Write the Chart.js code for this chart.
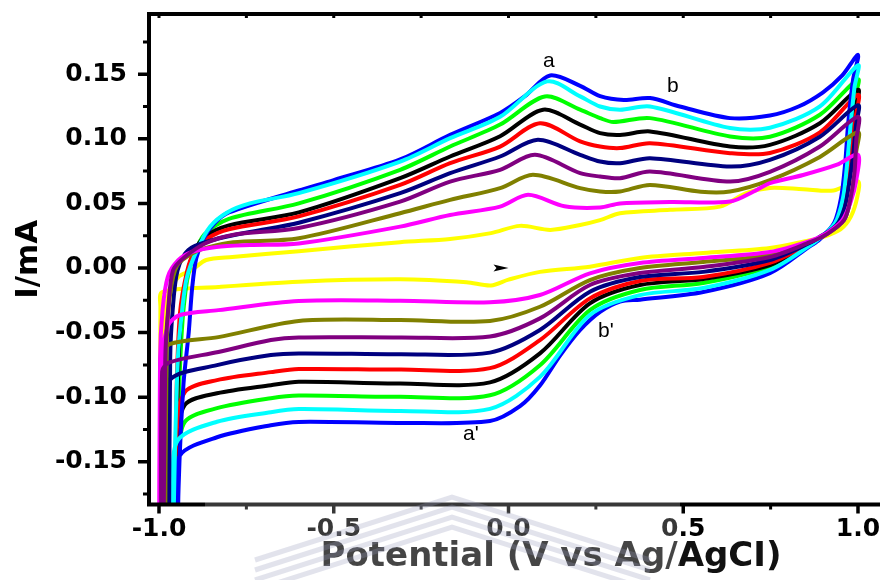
<!DOCTYPE html>
<html>
<head>
<meta charset="utf-8">
<script src="https://cdn.jsdelivr.net/npm/chart.js@4/dist/chart.umd.min.js"></script>
<style>
  html, body { margin: 0; padding: 0; background: #ffffff; overflow: hidden; }
  #wrap { width: 960px; height: 580px; position: relative; }
</style>
</head>
<body>
<div id="wrap"><canvas id="cv" width="960" height="580"></canvas></div>
<script>
// Cyclic voltammograms, one closed loop per scan rate: [potential (V), current (mA)]
// Each path: forward (anodic) sweep from -1.0 V up to 1.0 V, then the reverse sweep back.
const scanYellow = [
  [-0.993,-0.25],[-0.99,-0.06],[-0.975,-0.022],[-0.945,-0.007],[-0.906,-0.0016],[-0.865,0.0062],
  [-0.79,0.0085],[-0.6,0.013],[-0.31,0.020],[-0.167,0.0225],[-0.05,0.027],[0.033,0.0326],[0.12,0.0295],
  [0.205,0.0333],[0.262,0.037],[0.319,0.0424],[0.462,0.045],[0.605,0.0475],[0.68,0.058],[0.748,0.062],
  [0.843,0.061],[0.93,0.060],[1.0,0.067],
  [0.998,0.055],[0.98,0.040],[0.95,0.030],[0.89,0.023],
  [0.863,0.0215],[0.748,0.0155],[0.557,0.0116],[0.376,0.0078],[0.233,0.001],[0.09,-0.003],[0.0,-0.009],
  [-0.05,-0.0135],[-0.12,-0.011],[-0.31,-0.0088],[-0.6,-0.0106],[-0.83,-0.0147],
  [-0.991,-0.0186],[-0.996,-0.03],[-0.997,-0.25]
];
const scanMagenta = [
  [-1.0,-0.25],[-0.997,-0.07],[-0.99,-0.033],[-0.975,-0.007],[-0.945,0.006],[-0.905,0.0124],
  [-0.836,0.0163],[-0.74,0.0178],[-0.6,0.019],[-0.31,0.032],[-0.167,0.041],[-0.024,0.0475],[0.056,0.0566],
  [0.16,0.0478],[0.262,0.0468],[0.319,0.050],[0.462,0.051],[0.634,0.0514],[0.7,0.059],
  [0.748,0.0657],[0.843,0.072],[0.94,0.080],[1.0,0.0876],
  [0.995,0.068],[0.98,0.052],[0.955,0.037],[0.91,0.027],
  [0.863,0.021],[0.748,0.0124],[0.557,0.0078],[0.376,0.0039],[0.233,-0.0041],[0.09,-0.0209],
  [-0.053,-0.0265],[-0.31,-0.0253],[-0.6,-0.0255],[-0.83,-0.0326],
  [-0.94,-0.0364],[-0.975,-0.045],[-0.993,-0.08],[-0.997,-0.25]
];
const scanOlive = [
  [-0.983,-0.25],[-0.978,-0.06],[-0.968,-0.02],[-0.948,0.002],[-0.9,0.012],[-0.86,0.016],
  [-0.788,0.020],[-0.6,0.023],[-0.31,0.0424],[-0.167,0.0527],[-0.024,0.0618],[0.07,0.0721],
  [0.205,0.0618],[0.262,0.0592],[0.319,0.0592],[0.405,0.0643],[0.55,0.059],[0.634,0.0592],
  [0.748,0.068],[0.891,0.086],[1.0,0.105],
  [0.995,0.09],[0.99,0.07],[0.978,0.052],[0.96,0.037],[0.91,0.026],
  [0.863,0.0205],[0.748,0.010],[0.557,0.0047],[0.376,0.0],[0.233,-0.0093],[0.09,-0.030],
  [-0.053,-0.041],[-0.31,-0.0403],[-0.6,-0.041],[-0.83,-0.0535],
  [-0.97,-0.059],[-0.988,-0.07],[-0.99,-0.25]
];
const scanPurple = [
  [-0.988,-0.25],[-0.982,-0.07],[-0.974,-0.033],[-0.96,-0.002],[-0.926,0.0085],[-0.868,0.019],
  [-0.79,0.0256],[-0.6,0.031],[-0.31,0.0514],[-0.167,0.0669],[-0.024,0.076],[0.076,0.0876],
  [0.205,0.0734],[0.262,0.0708],[0.319,0.0695],[0.405,0.0747],[0.634,0.0669],[0.748,0.0744],
  [0.891,0.094],[1.0,0.117],
  [0.995,0.099],[0.99,0.074],[0.978,0.053],[0.96,0.037],[0.91,0.026],
  [0.863,0.020],[0.748,0.0085],[0.557,0.0008],[0.376,-0.0039],[0.233,-0.0132],[0.09,-0.039],
  [-0.053,-0.053],[-0.31,-0.0537],[-0.6,-0.0537],[-0.68,-0.0558],
  [-0.83,-0.065],[-0.97,-0.073],[-0.991,-0.08],[-0.993,-0.25]
];
const scanNavy = [
  [-0.972,-0.25],[-0.968,-0.07],[-0.961,-0.033],[-0.947,-0.002],[-0.916,0.014],[-0.845,0.0217],
  [-0.74,0.0279],[-0.6,0.035],[-0.31,0.0579],[-0.167,0.0734],[-0.024,0.0863],[0.084,0.0992],
  [0.205,0.0876],[0.262,0.0824],[0.319,0.0811],[0.405,0.085],[0.634,0.0785],[0.748,0.0837],
  [0.891,0.1016],[1.0,0.126],
  [0.994,0.11],[0.986,0.087],[0.975,0.066],[0.962,0.047],[0.938,0.033],[0.89,0.024],
  [0.863,0.0195],[0.748,0.0062],[0.557,-0.003],[0.376,-0.007],[0.233,-0.0184],[0.09,-0.048],
  [-0.053,-0.0655],[-0.31,-0.0667],[-0.6,-0.0661],[-0.68,-0.0674],
  [-0.834,-0.0752],[-0.97,-0.0868],[-0.975,-0.12],[-0.978,-0.25]
];
const scanRed = [
  [-0.957,-0.25],[-0.95,-0.1],[-0.94,-0.035],[-0.92,-0.003],[-0.9,0.012],[-0.86,0.023],
  [-0.8,0.030],[-0.6,0.040],[-0.31,0.0643],[-0.167,0.0811],[-0.024,0.094],[0.09,0.112],
  [0.205,0.098],[0.262,0.094],[0.319,0.0928],[0.405,0.0966],[0.634,0.0889],[0.748,0.089],
  [0.891,0.105],[1.0,0.134],
  [0.992,0.115],[0.983,0.09],[0.973,0.068],[0.96,0.048],[0.937,0.033],[0.89,0.023],
  [0.863,0.019],[0.748,0.0039],[0.557,-0.007],[0.376,-0.010],[0.233,-0.0235],[0.09,-0.0558],
  [-0.053,-0.0775],[-0.31,-0.0786],[-0.6,-0.0782],[-0.68,-0.0806],
  [-0.834,-0.0868],[-0.926,-0.096],[-0.95,-0.13],[-0.96,-0.25]
];
const scanBlack = [
  [-0.955,-0.25],[-0.948,-0.11],[-0.938,-0.04],[-0.92,-0.005],[-0.9,0.012],[-0.87,0.024],
  [-0.8,0.033],[-0.6,0.043],[-0.31,0.0695],[-0.167,0.0863],[-0.024,0.102],[0.099,0.1225],
  [0.205,0.111],[0.262,0.1044],[0.319,0.103],[0.405,0.1057],[0.634,0.094],[0.748,0.0953],
  [0.891,0.112],[1.0,0.138],
  [0.99,0.12],[0.982,0.095],[0.972,0.072],[0.96,0.05],[0.937,0.034],[0.89,0.023],
  [0.863,0.0185],[0.748,0.0023],[0.557,-0.0085],[0.376,-0.0132],[0.233,-0.0274],[0.09,-0.0661],
  [-0.053,-0.0885],[-0.31,-0.0894],[-0.6,-0.0881],[-0.68,-0.0907],
  [-0.834,-0.097],[-0.926,-0.106],[-0.948,-0.14],[-0.958,-0.25]
];
const scanGreen = [
  [-0.952,-0.25],[-0.945,-0.12],[-0.935,-0.05],[-0.92,-0.01],[-0.9,0.01],[-0.87,0.026],
  [-0.8,0.038],[-0.6,0.050],[-0.31,0.076],[-0.167,0.094],[-0.024,0.111],[0.104,0.1328],
  [0.205,0.1225],[0.262,0.116],[0.3,0.113],[0.405,0.116],[0.634,0.1018],[0.748,0.1016],
  [0.891,0.1186],[1.0,0.146],
  [0.99,0.13],[0.98,0.10],[0.97,0.075],[0.958,0.052],[0.935,0.034],[0.89,0.023],
  [0.863,0.018],[0.748,0.0008],[0.557,-0.0116],[0.376,-0.017],[0.233,-0.0326],[0.09,-0.0752],
  [-0.053,-0.0985],[-0.31,-0.0997],[-0.6,-0.0987],[-0.68,-0.1008],
  [-0.834,-0.1085],[-0.926,-0.119],[-0.945,-0.15],[-0.955,-0.25]
];
const scanCyan = [
  [-0.962,-0.25],[-0.955,-0.15],[-0.946,-0.07],[-0.934,-0.033],[-0.92,-0.007],[-0.891,0.014],
  [-0.854,0.032],[-0.805,0.043],[-0.74,0.050],[-0.6,0.058],[-0.31,0.0824],[-0.167,0.1005],
  [-0.024,0.117],[0.11,0.1444],[0.205,0.1328],[0.262,0.125],[0.319,0.1225],[0.405,0.125],
  [0.634,0.1083],[0.748,0.1085],[0.891,0.125],[1.0,0.157],
  [0.99,0.14],[0.978,0.108],[0.968,0.078],[0.957,0.054],[0.935,0.035],[0.89,0.023],
  [0.863,0.0175],[0.748,-0.0015],[0.557,-0.0155],[0.376,-0.021],[0.233,-0.0364],[0.09,-0.0843],
  [-0.053,-0.109],[-0.31,-0.1106],[-0.6,-0.1092],[-0.68,-0.1116],
  [-0.834,-0.119],[-0.946,-0.1333],[-0.96,-0.17],[-0.964,-0.25]
];
const scanBlue = [
  [-0.948,-0.25],[-0.944,-0.17],[-0.93,-0.09],[-0.915,-0.05],[-0.905,-0.015],[-0.893,0.008],
  [-0.87,0.024],[-0.84,0.035],[-0.8,0.043],[-0.6,0.060],[-0.5,0.068],[-0.31,0.084],[-0.167,0.103],
  [-0.024,0.120],[0.047,0.133],[0.119,0.149],[0.205,0.141],[0.262,0.133],[0.33,0.130],[0.405,0.1315],
  [0.49,0.125],[0.634,0.116],[0.748,0.118],[0.83,0.125],[0.9,0.136],[0.955,0.149],[1.0,0.165],
  [0.986,0.146],[0.972,0.112],[0.963,0.080],[0.952,0.055],[0.932,0.035],[0.89,0.022],
  [0.863,0.017],[0.748,-0.004],[0.557,-0.0186],[0.376,-0.0245],[0.319,-0.026],[0.262,-0.034],
  [0.205,-0.048],[0.147,-0.068],[0.09,-0.091],[0.033,-0.107],[-0.053,-0.1185],
  [-0.31,-0.1199],[-0.6,-0.1191],[-0.68,-0.1217],[-0.834,-0.131],[-0.94,-0.145],
  [-0.95,-0.18],[-0.952,-0.25]
];

// series, colours and stacking (lower order is painted on top)
const scanPaths   = [scanYellow, scanMagenta, scanOlive, scanPurple, scanNavy, scanRed, scanBlack, scanGreen, scanCyan, scanBlue];
const scanNames   = ['scan 1','scan 2','scan 3','scan 4','scan 5','scan 6','scan 7','scan 8','scan 9','scan 10'];
const scanColors  = ['#FFFF00','#FF00FF','#808000','#800080','#000080','#FF0000','#000000','#00FF00','#00FFFF','#0000FF'];
const scanOrder   = [10, 2, 3, 1, 4, 7, 8, 9, 5, 6];

// axes
const xMajorTicks = [-1.0, -0.5, 0.0, 0.5, 1.0];
const xMinorTicks = [-0.75, -0.25, 0.25, 0.75];
const yMajorTicks = [-0.15, -0.10, -0.05, 0.00, 0.05, 0.10, 0.15];
const yMinorTicks = [-0.175, -0.125, -0.075, -0.025, 0.025, 0.075, 0.125, 0.175];

// peak labels [text, potential, current] and sweep-direction arrow [potential, current]
const peakLabels = [['a', 0.099, 0.1558], ['b', 0.4535, 0.1364], ["a'", -0.1302, -0.1333], ["b'", 0.2561, -0.0535]];
const sweepArrow = [0.0, 0.0];

const frameAndMarks = {
  id: 'frameAndMarks',
  afterDraw(chart) {
    const { ctx, chartArea: a, scales: { x, y } } = chart;
    ctx.save();
    // labels next to the peaks
    ctx.fillStyle = '#000';
    ctx.font = '21px "Liberation Sans", Arial, sans-serif';
    ctx.textAlign = 'left';
    ctx.textBaseline = 'alphabetic';
    peakLabels.forEach(([t, v, i]) => ctx.fillText(t, x.getPixelForValue(v), y.getPixelForValue(i)));
    // arrowhead showing the sweep direction
    const ax = x.getPixelForValue(sweepArrow[0]), ay = y.getPixelForValue(sweepArrow[1]);
    ctx.beginPath();
    ctx.moveTo(ax, ay);
    ctx.lineTo(ax - 15, ay - 3.5);
    ctx.lineTo(ax - 12, ay);
    ctx.lineTo(ax - 15, ay + 3.5);
    ctx.closePath();
    ctx.fill();

    // frame
    ctx.strokeStyle = '#000';
    ctx.lineWidth = 4;
    ctx.lineCap = 'square';
    ctx.beginPath();
    ctx.moveTo(a.left, a.bottom); ctx.lineTo(a.left, a.top); ctx.lineTo(a.right, a.top);
    ctx.moveTo(a.left, a.bottom); ctx.lineTo(a.right, a.bottom);
    ctx.stroke();
    ctx.lineCap = 'butt';
    ctx.lineWidth = 3.5;
    ctx.beginPath();
    yMajorTicks.forEach(v => { const p = y.getPixelForValue(v); ctx.moveTo(a.left, p); ctx.lineTo(a.left - 11, p); });
    xMajorTicks.forEach(v => { const p = x.getPixelForValue(v); ctx.moveTo(p, a.bottom); ctx.lineTo(p, a.bottom + 9); });
    ctx.stroke();
    ctx.lineWidth = 3;
    ctx.beginPath();
    yMinorTicks.forEach(v => { const p = y.getPixelForValue(v); ctx.moveTo(a.left, p); ctx.lineTo(a.left - 6, p); });
    xMinorTicks.forEach(v => { const p = x.getPixelForValue(v); ctx.moveTo(p, a.bottom); ctx.lineTo(p, a.bottom + 5); });
    xMajorTicks.concat(xMinorTicks).forEach(v => { const p = x.getPixelForValue(v); ctx.moveTo(p, a.top); ctx.lineTo(p, a.top + 4); });
    ctx.stroke();

    // faint crest printed over the lower edge of the page
    ctx.fillStyle = 'rgba(255,255,255,0.22)';
    ctx.fillRect(205, 488, 475, 92);
    ctx.strokeStyle = 'rgba(150,156,186,0.28)';
    ctx.lineWidth = 5;
    for (let k = 0; k < 4; k++) {
      ctx.beginPath();
      ctx.moveTo(255, 560 + k * 10);
      ctx.lineTo(452, 497 + k * 10);
      ctx.lineTo(650, 560 + k * 10);
      ctx.stroke();
    }
    ctx.restore();
  }
};

const datasets = scanPaths.map((path, k) => ({
  label: scanNames[k],
  data: path.map(([v, i]) => ({ x: v, y: i })),
  borderColor: scanColors[k],
  backgroundColor: scanColors[k],
  borderWidth: 4,
  pointRadius: 0,
  showLine: true,
  fill: false,
  tension: 0.3,
  order: scanOrder[k]
}));

new Chart(document.getElementById('cv'), {
  type: 'scatter',
  data: { datasets },
  plugins: [frameAndMarks],
  options: {
    responsive: false,
    animation: false,
    devicePixelRatio: 1,
    layout: { autoPadding: false, padding: { left: 0, right: 7, top: 14, bottom: 0 } },
    plugins: { legend: { display: false }, tooltip: { enabled: false }, title: { display: false } },
    scales: {
      x: {
        type: 'linear',
        position: 'bottom',
        min: -1.02861,
        max: 1.27182,
        afterFit(s) { s.height = 75.5; s.paddingLeft = 0; s.paddingRight = 0; s.paddingTop = 0; s.paddingBottom = 0; },
        grid: { display: false, drawTicks: false },
        border: { display: false },
        ticks: {
          stepSize: 0.5,
          includeBounds: false,
          padding: 10,
          color: '#000',
          font: { family: '"DejaVu Sans", sans-serif', size: 25, weight: 'bold' },
          callback: v => (Math.abs(v) < 1e-9 ? 0 : v).toFixed(1)
        },
        title: {
          display: true,
          text: 'Potential (V vs Ag/AgCI)',
          color: '#111',
          padding: { top: 0, bottom: 2 },
          font: { family: '"DejaVu Sans", sans-serif', size: 34, weight: 'bold' }
        }
      },
      y: {
        type: 'linear',
        position: 'left',
        min: -0.18305,
        max: 0.19659,
        afterFit(s) { s.width = 149; s.paddingLeft = 0; s.paddingRight = 0; s.paddingTop = 0; s.paddingBottom = 0; },
        grid: { display: false, drawTicks: false },
        border: { display: false },
        ticks: {
          stepSize: 0.05,
          includeBounds: false,
          padding: 22,
          color: '#000',
          font: { family: '"DejaVu Sans", sans-serif', size: 25, weight: 'bold' },
          callback: v => (Math.abs(v) < 1e-9 ? 0 : v).toFixed(2)
        },
        title: {
          display: true,
          text: 'I/mA',
          color: '#000',
          padding: { top: 10, bottom: 0 },
          font: { family: '"DejaVu Sans", sans-serif', size: 31, weight: 'bold' }
        }
      }
    }
  }
});
</script>
</body>
</html>
